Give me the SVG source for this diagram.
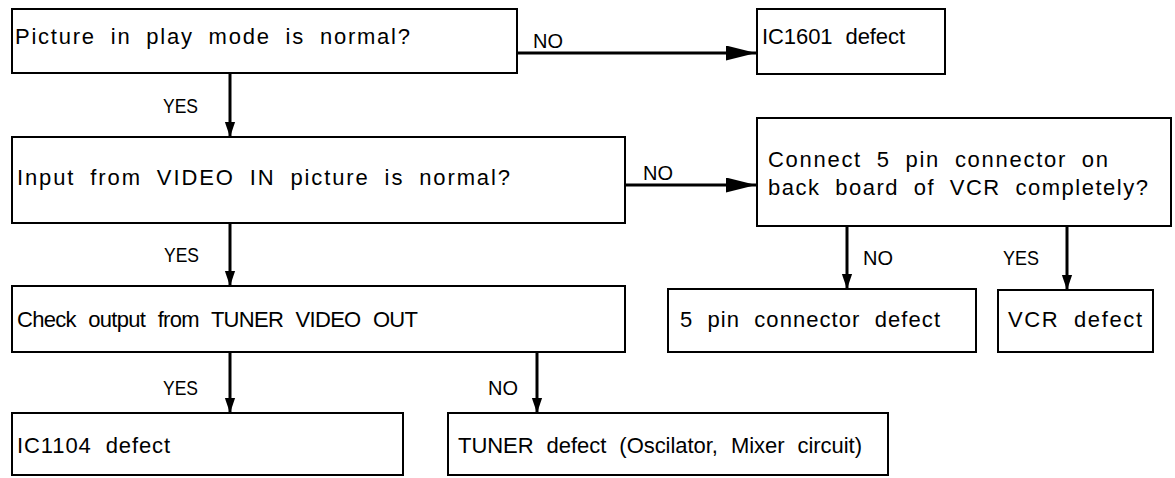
<svg xmlns="http://www.w3.org/2000/svg" width="1175" height="478" viewBox="0 0 1175 478">
<style>
.box{fill:#fff;stroke:#000;stroke-width:2}
.t{font-family:"Liberation Sans",Arial,sans-serif;font-size:22px;fill:#000;word-spacing:7px}
.l{font-family:"Liberation Sans",Arial,sans-serif;font-size:21px;fill:#000}
.c{stroke:#000;stroke-width:3;fill:none}
</style>
<defs>
<marker id="av" markerUnits="userSpaceOnUse" markerWidth="15" markerHeight="22" refX="22" refY="7.5" orient="auto" viewBox="0 0 22 15">
<path d="M0,0 L22,7.5 L0,15 Z" fill="#000"/>
</marker>
<marker id="ah" markerUnits="userSpaceOnUse" markerWidth="30" markerHeight="15" refX="30" refY="7.5" orient="auto" viewBox="0 0 30 15">
<path d="M0,0 L30,7.5 L0,15 Z" fill="#000"/>
</marker>
</defs>
<rect width="1175" height="478" fill="#fff"/>
<g id="connectors">
<path class="c" d="M517,53 H756" marker-end="url(#ah)"/>
<path class="c" d="M625,185 H756" marker-end="url(#ah)"/>
<path class="c" d="M230,73 V137" marker-end="url(#av)"/>
<path class="c" d="M230,223 V286" marker-end="url(#av)"/>
<path class="c" d="M230,352 V413" marker-end="url(#av)"/>
<path class="c" d="M537,352 V413" marker-end="url(#av)"/>
<path class="c" d="M847,226 V289" marker-end="url(#av)"/>
<path class="c" d="M1067,226 V290" marker-end="url(#av)"/>
<text class="l" x="533" y="48" textLength="30" lengthAdjust="spacingAndGlyphs">NO</text>
<text class="l" x="163" y="113" textLength="35" lengthAdjust="spacingAndGlyphs">YES</text>
<text class="l" x="643" y="180" textLength="30" lengthAdjust="spacingAndGlyphs">NO</text>
<text class="l" x="164" y="262" textLength="35" lengthAdjust="spacingAndGlyphs">YES</text>
<text class="l" x="163" y="395" textLength="35" lengthAdjust="spacingAndGlyphs">YES</text>
<text class="l" x="488" y="395" textLength="30" lengthAdjust="spacingAndGlyphs">NO</text>
<text class="l" x="863" y="265" textLength="30" lengthAdjust="spacingAndGlyphs">NO</text>
<text class="l" x="1003" y="265" textLength="36" lengthAdjust="spacingAndGlyphs">YES</text>
</g>
<g id="n1"><rect class="box" x="12" y="9" width="505" height="64"/><text class="t" x="15" y="44" textLength="395" lengthAdjust="spacing">Picture in play mode is normal?</text></g>
<g id="n2"><rect class="box" x="757" y="9" width="188" height="65"/><text class="t" x="762" y="44" textLength="143" lengthAdjust="spacing">IC1601 defect</text></g>
<g id="n3"><rect class="box" x="12" y="137" width="613" height="86"/><text class="t" x="17" y="185" textLength="493" lengthAdjust="spacing">Input from VIDEO IN picture is normal?</text></g>
<g id="n4"><rect class="box" x="757" y="118" width="414" height="108"/><text class="t" x="768" y="167" textLength="340" lengthAdjust="spacing">Connect 5 pin connector on</text><text class="t" x="768" y="195" textLength="380" lengthAdjust="spacing">back board of VCR completely?</text></g>
<g id="n5"><rect class="box" x="12" y="286" width="613" height="66"/><text class="t" x="17" y="327" textLength="401" lengthAdjust="spacing">Check output from TUNER VIDEO OUT</text></g>
<g id="n6"><rect class="box" x="668" y="289" width="308" height="63"/><text class="t" x="680" y="327" textLength="260" lengthAdjust="spacing">5 pin connector defect</text></g>
<g id="n7"><rect class="box" x="998" y="290" width="155" height="62"/><text class="t" x="1008" y="327" textLength="134" lengthAdjust="spacing">VCR defect</text></g>
<g id="n8"><rect class="box" x="12" y="413" width="391" height="62"/><text class="t" x="17" y="453" textLength="153" lengthAdjust="spacing">IC1104 defect</text></g>
<g id="n9"><rect class="box" x="448" y="413" width="440" height="62"/><text class="t" x="458" y="453" textLength="404" lengthAdjust="spacing">TUNER defect (Oscilator, Mixer circuit)</text></g>
</svg>
